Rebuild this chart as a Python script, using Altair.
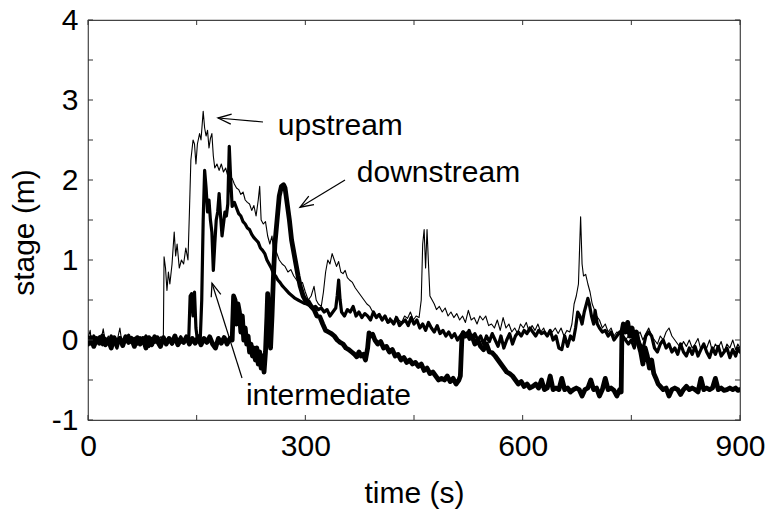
import math
import altair as alt
import pandas as pd

# ---------------- data (time s, stage m) ----------------
UPSTREAM = [
    (0, 0.02), (3, 0.12), (5, -0.05), (8, 0.03), (12, -0.06), (15, 0.04), (18, 0.0), (21, 0.14),
    (24, -0.03), (28, 0.05), (32, -0.04), (36, 0.02), (40, -0.02), (44, 0.15), (47, -0.05), (50, 0.03),
    (55, -0.02), (60, 0.04), (65, -0.06), (70, 0.02), (75, -0.03), (80, 0.05), (85, -0.04), (90, 0.03),
    (95, -0.02), (100, 0.04), (104, 0.0), (105, 1.04), (107, 0.9), (109, 0.62), (111, 0.85), (113, 0.7),
    (116, 0.95), (119, 1.35), (121, 1.05), (123, 1.2), (126, 0.9), (129, 1.0), (132, 0.95), (135, 1.15),
    (138, 1.0), (140, 1.6), (142, 2.25), (145, 2.5), (147, 2.45), (149, 2.2), (151, 2.45), (154, 2.58),
    (156, 2.5), (159, 2.86), (161, 2.65), (163, 2.55), (165, 2.62), (167, 2.4), (169, 2.52), (171, 2.58),
    (173, 2.3), (175, 2.15), (178, 2.2), (181, 2.12), (184, 2.2), (187, 2.1), (190, 2.15), (193, 2.05),
    (196, 2.0), (199, 2.02), (202, 1.95), (205, 1.9), (208, 1.88), (211, 1.82), (214, 1.85), (217, 1.75),
    (220, 1.72), (223, 1.7), (226, 1.62), (229, 1.68), (232, 1.55), (235, 1.75), (237, 1.92), (239, 1.5),
    (242, 1.45), (245, 1.48), (248, 1.3), (251, 1.2), (254, 1.3), (257, 1.05), (260, 1.1), (264, 1.0),
    (268, 0.95), (272, 0.92), (276, 0.85), (280, 0.88), (284, 0.8), (288, 0.75), (292, 0.7), (296, 0.72),
    (300, 0.6), (304, 0.5), (308, 0.55), (312, 0.67), (315, 0.5), (318, 0.45), (322, 0.42), (325, 0.6),
    (328, 0.85), (331, 1.0), (334, 0.95), (337, 1.08), (340, 1.0), (343, 0.92), (346, 0.98), (349, 0.85),
    (352, 0.83), (355, 0.87), (358, 0.78), (361, 0.75), (365, 0.72), (369, 0.65), (373, 0.6), (377, 0.55),
    (381, 0.5), (385, 0.45), (389, 0.42), (393, 0.35), (397, 0.28), (401, 0.32), (405, 0.25), (409, 0.3),
    (413, 0.22), (417, 0.28), (421, 0.2), (425, 0.3), (429, 0.25), (433, 0.22), (437, 0.3), (441, 0.27),
    (445, 0.35), (449, 0.25), (453, 0.3), (457, 0.28), (460, 0.5), (462, 1.2), (464, 1.38), (466, 0.9),
    (468, 1.38), (470, 0.95), (472, 0.55), (475, 0.5), (478, 0.45), (481, 0.38), (485, 0.42), (489, 0.35),
    (493, 0.4), (497, 0.3), (501, 0.35), (505, 0.28), (509, 0.33), (513, 0.25), (517, 0.3), (521, 0.22),
    (525, 0.37), (529, 0.25), (533, 0.28), (537, 0.2), (541, 0.3), (545, 0.25), (549, 0.3), (553, 0.18),
    (557, 0.2), (561, 0.15), (565, 0.25), (569, 0.12), (573, 0.28), (577, 0.15), (581, 0.2), (585, 0.1),
    (589, 0.15), (593, 0.08), (597, 0.2), (601, 0.15), (605, 0.22), (609, 0.1), (613, 0.18), (617, 0.12),
    (621, 0.2), (625, 0.1), (629, 0.15), (633, 0.05), (637, 0.12), (641, 0.1), (645, 0.15), (649, 0.08),
    (653, 0.15), (657, 0.05), (661, 0.12), (665, 0.1), (668, 0.2), (671, 0.45), (674, 0.55), (677, 0.7),
    (680, 1.54), (682, 0.95), (684, 0.8), (687, 0.82), (690, 0.7), (693, 0.6), (696, 0.45), (699, 0.38),
    (702, 0.3), (706, 0.25), (710, 0.15), (714, 0.2), (718, 0.1), (722, 0.15), (726, 0.05), (730, 0.1),
    (734, 0.08), (738, 0.05), (742, 0.0), (746, 0.05), (750, 0.1), (754, 0.02), (758, 0.05), (762, 0.1),
    (766, 0.0), (770, 0.08), (774, 0.15), (778, 0.05), (782, 0.0), (786, -0.05), (790, 0.05), (794, 0.0),
    (798, 0.1), (802, 0.15), (806, 0.05), (810, 0.0), (814, -0.05), (818, -0.1), (822, -0.02), (826, -0.08),
    (830, 0.0), (834, -0.1), (838, -0.05), (842, 0.02), (846, -0.12), (850, -0.05), (854, -0.1), (858, 0.0),
    (862, -0.15), (866, -0.05), (870, -0.1), (874, -0.02), (878, -0.15), (882, -0.05), (886, -0.1), (890, 0.0),
    (894, -0.12), (897, -0.05), (900, -0.1),
]

INTERMEDIATE = [
    (0, 0.0), (4, -0.05), (8, 0.05), (12, -0.02), (16, 0.04), (20, -0.06), (24, 0.02), (28, -0.03),
    (32, 0.05), (36, -0.02), (40, -0.1), (44, 0.03), (48, -0.04), (52, 0.02), (56, 0.06), (60, -0.03),
    (64, 0.02), (68, -0.05), (72, 0.03), (76, -0.02), (80, 0.05), (84, -0.08), (88, 0.02), (92, -0.03),
    (96, 0.04), (100, -0.02), (104, 0.03), (108, -0.04), (112, 0.02), (116, -0.05), (120, 0.03), (124, -0.02),
    (128, 0.04), (132, -0.03), (136, 0.02), (139, 0.0), (141, 0.55), (143, 0.58), (145, 0.3), (147, 0.6),
    (149, 0.15), (151, 0.0), (153, 0.05), (155, 0.02), (157, 0.5), (159, 1.5), (161, 2.12), (163, 1.9),
    (165, 1.6), (167, 1.75), (169, 1.5), (171, 1.35), (173, 0.87), (175, 1.2), (177, 1.5), (179, 1.6),
    (181, 1.83), (183, 1.55), (185, 1.3), (187, 1.45), (189, 1.6), (191, 1.55), (193, 1.7), (195, 2.42),
    (197, 2.0), (199, 1.67), (202, 1.72), (205, 1.65), (208, 1.58), (211, 1.55), (214, 1.48), (217, 1.45),
    (220, 1.4), (223, 1.38), (226, 1.32), (229, 1.28), (232, 1.25), (235, 1.22), (238, 1.15), (241, 1.12),
    (244, 1.08), (247, 1.0), (250, 0.95), (253, 0.9), (256, 0.83), (259, 0.8), (262, 0.75), (265, 0.72),
    (268, 0.68), (271, 0.65), (274, 0.62), (278, 0.58), (282, 0.55), (286, 0.52), (290, 0.5), (294, 0.48),
    (298, 0.46), (302, 0.45), (306, 0.43), (310, 0.4), (314, 0.42), (318, 0.38), (322, 0.4), (326, 0.35),
    (330, 0.38), (334, 0.3), (338, 0.35), (342, 0.4), (344, 0.55), (346, 0.75), (348, 0.5), (350, 0.35),
    (354, 0.3), (358, 0.38), (362, 0.35), (366, 0.42), (370, 0.3), (374, 0.35), (378, 0.28), (382, 0.33),
    (386, 0.3), (390, 0.25), (394, 0.35), (398, 0.28), (402, 0.32), (406, 0.25), (410, 0.3), (414, 0.22),
    (418, 0.25), (422, 0.2), (426, 0.28), (430, 0.18), (434, 0.22), (438, 0.25), (442, 0.18), (446, 0.28),
    (450, 0.2), (454, 0.25), (458, 0.15), (462, 0.2), (466, 0.12), (470, 0.22), (474, 0.15), (478, 0.1),
    (482, 0.18), (486, 0.08), (490, 0.12), (494, 0.05), (498, 0.1), (502, 0.03), (506, 0.08), (510, 0.0),
    (514, 0.05), (518, 0.1), (522, 0.05), (526, 0.12), (530, 0.02), (534, 0.08), (538, 0.0), (542, 0.05),
    (546, -0.05), (550, 0.05), (554, -0.02), (558, 0.08), (562, 0.0), (566, -0.08), (570, 0.05), (574, -0.1),
    (578, 0.0), (582, 0.08), (586, -0.05), (590, 0.05), (594, 0.1), (598, 0.05), (602, 0.12), (606, 0.08),
    (610, 0.15), (614, 0.1), (618, 0.05), (622, 0.12), (626, 0.08), (630, 0.1), (634, 0.05), (638, 0.12),
    (642, 0.0), (646, 0.05), (650, -0.1), (654, -0.12), (658, 0.05), (662, -0.08), (666, 0.05), (670, 0.0),
    (673, 0.15), (676, 0.35), (679, 0.3), (682, 0.2), (685, 0.35), (688, 0.45), (690, 0.52), (692, 0.45),
    (695, 0.3), (698, 0.2), (700, 0.37), (703, 0.2), (706, 0.15), (710, 0.1), (714, 0.12), (718, 0.05),
    (722, 0.1), (726, 0.0), (730, 0.05), (734, 0.1), (738, 0.05), (742, 0.0), (746, -0.05), (750, 0.0),
    (754, -0.1), (758, 0.05), (762, -0.05), (766, -0.12), (770, 0.05), (774, 0.1), (778, 0.05), (782, -0.1),
    (786, -0.15), (790, -0.05), (794, 0.0), (798, -0.1), (802, -0.05), (806, -0.15), (810, -0.1), (814, -0.18),
    (818, -0.05), (822, -0.15), (826, -0.2), (830, -0.1), (834, -0.18), (838, -0.08), (842, -0.2), (846, -0.12),
    (850, -0.05), (854, -0.15), (858, -0.22), (862, -0.1), (866, -0.18), (870, -0.08), (874, -0.2), (878, -0.15),
    (882, -0.1), (886, -0.22), (890, -0.12), (894, -0.2), (897, -0.1), (900, -0.15),
]

DOWNSTREAM = [
    (0, -0.05), (4, 0.03), (8, -0.08), (12, 0.02), (16, -0.04), (20, 0.05), (24, -0.06), (28, 0.0),
    (32, -0.1), (36, 0.03), (40, -0.04), (44, 0.02), (48, -0.07), (52, 0.04), (56, -0.03), (60, 0.02),
    (64, -0.08), (68, 0.03), (72, -0.05), (76, 0.02), (80, -0.1), (84, 0.03), (88, -0.06), (92, 0.04),
    (96, -0.02), (100, -0.08), (104, 0.03), (108, -0.05), (112, 0.02), (116, -0.04), (120, 0.05), (124, -0.06),
    (128, 0.0), (132, -0.03), (136, 0.04), (140, -0.05), (144, 0.02), (148, -0.04), (152, 0.03), (156, -0.06),
    (160, 0.02), (164, -0.03), (168, 0.04), (172, -0.05), (176, -0.1), (180, 0.02), (184, -0.04), (188, 0.03),
    (192, -0.05), (196, 0.02), (199, 0.0), (201, 0.55), (203, 0.5), (205, 0.2), (207, 0.45), (209, 0.35),
    (211, 0.1), (213, 0.3), (215, 0.0), (217, 0.15), (219, -0.05), (221, 0.05), (223, -0.15), (225, -0.05),
    (227, -0.2), (229, -0.1), (231, -0.25), (233, -0.1), (235, -0.3), (237, -0.15), (239, -0.35), (241, -0.2),
    (243, -0.4), (245, -0.15), (247, 0.3), (248, 0.58), (250, 0.2), (252, -0.1), (254, 0.3), (256, 0.8),
    (258, 1.2), (261, 1.5), (264, 1.8), (267, 1.92), (270, 1.94), (272, 1.9), (275, 1.7), (278, 1.5),
    (281, 1.25), (284, 1.1), (287, 0.95), (290, 0.8), (293, 0.67), (297, 0.55), (300, 0.5), (304, 0.48),
    (308, 0.42), (312, 0.38), (316, 0.3), (320, 0.29), (324, 0.2), (328, 0.12), (332, 0.1), (336, 0.08),
    (340, 0.05), (344, 0.0), (348, -0.03), (352, -0.05), (356, -0.1), (360, -0.12), (364, -0.15), (368, -0.18),
    (371, -0.21), (374, -0.15), (377, -0.2), (380, -0.18), (383, -0.25), (386, -0.1), (388, 0.09), (390, 0.05),
    (393, 0.07), (396, 0.0), (400, -0.05), (404, -0.02), (408, -0.1), (412, -0.08), (416, -0.15), (420, -0.12),
    (424, -0.2), (428, -0.18), (432, -0.25), (436, -0.22), (440, -0.28), (444, -0.25), (448, -0.3), (452, -0.28),
    (456, -0.33), (460, -0.3), (464, -0.38), (468, -0.35), (472, -0.42), (476, -0.4), (480, -0.45), (484, -0.5),
    (488, -0.48), (492, -0.5), (496, -0.45), (500, -0.52), (504, -0.48), (508, -0.55), (512, -0.5), (514, -0.45),
    (516, 0.0), (518, 0.09), (521, 0.05), (524, 0.08), (527, 0.02), (530, 0.05), (534, -0.05), (538, 0.0),
    (542, -0.08), (546, -0.12), (550, -0.05), (554, -0.15), (558, -0.16), (562, -0.2), (566, -0.25), (570, -0.3),
    (574, -0.35), (578, -0.4), (582, -0.42), (586, -0.45), (590, -0.5), (594, -0.55), (598, -0.52), (602, -0.58),
    (606, -0.55), (610, -0.6), (614, -0.58), (618, -0.55), (622, -0.6), (626, -0.5), (630, -0.62), (634, -0.6),
    (638, -0.45), (642, -0.62), (646, -0.6), (650, -0.62), (654, -0.48), (658, -0.62), (662, -0.6), (666, -0.65),
    (670, -0.62), (674, -0.6), (678, -0.62), (682, -0.7), (686, -0.62), (690, -0.6), (694, -0.5), (698, -0.62),
    (702, -0.6), (706, -0.7), (710, -0.62), (714, -0.48), (718, -0.62), (722, -0.6), (726, -0.63), (730, -0.7),
    (734, -0.62), (736, -0.65), (737, 0.1), (739, 0.2), (742, 0.1), (745, 0.22), (748, 0.05), (751, 0.15),
    (754, 0.0), (757, 0.1), (760, -0.05), (763, -0.15), (766, -0.3), (769, -0.1), (772, -0.2), (775, -0.35),
    (778, -0.25), (781, -0.42), (784, -0.48), (787, -0.55), (790, -0.58), (794, -0.62), (798, -0.6), (802, -0.7),
    (806, -0.62), (810, -0.6), (814, -0.62), (818, -0.68), (822, -0.62), (826, -0.58), (830, -0.62), (834, -0.6),
    (838, -0.62), (842, -0.65), (846, -0.48), (850, -0.62), (854, -0.6), (858, -0.62), (862, -0.6), (866, -0.48),
    (870, -0.62), (874, -0.6), (878, -0.63), (882, -0.62), (886, -0.6), (890, -0.62), (894, -0.6), (897, -0.63),
    (900, -0.62),
]

# annotations: text anchor and arrow (tail -> tip), in data units
LABELS = ["upstream", "downstream", "intermediate"]
LABEL_T = [262, 371, 218]
LABEL_V = [2.56, 1.975, -0.81]
ARROW_T0 = [241.6, 354.8, 212.6]
ARROW_V0 = [2.725, 2.0, -0.475]
ARROW_T1 = [179.5, 292.7, 171.2]
ARROW_V1 = [2.775, 1.66, 0.71]

X_TICKS = [0, 150, 300, 450, 600, 750, 900]
X_LABELS = [0, 300, 600, 900]
Y_TICKS = [-1, -0.5, 0, 0.5, 1, 1.5, 2, 2.5, 3, 3.5, 4]
Y_LABELS = [-1, 0, 1, 2, 3, 4]

# ---------------- chart ----------------
W, H = 652, 400
FONT = "Liberation Sans"
XD, YD = [0, 900], [-1, 4]

xs = alt.Scale(domain=XD, nice=False, zero=False)
ys = alt.Scale(domain=YD, nice=False, zero=False)

x_axis = alt.Axis(values=X_LABELS, ticks=False, domain=False, grid=False,
                  labelExpr="'' + datum.value",
                  labelFont=FONT, labelFontSize=30, labelColor="black", labelPadding=11,
                  labelFlush=False, title="time (s)", titleFont=FONT, titleFontSize=30,
                  titleFontWeight="normal", titleColor="black", titleX=326, titleY=82,
                  titleAlign="center", titleBaseline="alphabetic")
y_axis = alt.Axis(values=Y_LABELS, ticks=False, domain=False, grid=False,
                  labelExpr="'' + datum.value",
                  labelFont=FONT, labelFontSize=30, labelColor="black", labelPadding=10,
                  labelFlush=False, title="stage (m)", titleFont=FONT, titleFontSize=30,
                  titleFontWeight="normal", titleColor="black", titleAngle=270, titleX=-55,
                  titleY=212, titleAlign="center", titleBaseline="alphabetic")


def line_layer(pairs, width):
    df = pd.DataFrame(pairs, columns=["t", "v"])
    return alt.Chart(df).mark_line(color="black", strokeWidth=width, strokeJoin="round",
                                   strokeCap="round", clip=True).encode(
        x=alt.X("t:Q", scale=xs, axis=x_axis),
        y=alt.Y("v:Q", scale=ys, axis=y_axis),
        order="t:Q",
    )


up = line_layer(UPSTREAM, 1.1)
mid = line_layer(INTERMEDIATE, 3.2)
down = line_layer(DOWNSTREAM, 4.8)

# inward ticks on all four sides
ytick_df = pd.DataFrame({"v": Y_TICKS})
xtick_df = pd.DataFrame({"t": X_TICKS})
tick_color = "#333333"
ytl = alt.Chart(ytick_df).mark_rule(color=tick_color, strokeWidth=1).encode(
    y=alt.Y("v:Q", scale=ys, axis=y_axis), x=alt.value(0), x2=alt.value(5))
ytr = alt.Chart(ytick_df).mark_rule(color=tick_color, strokeWidth=1).encode(
    y=alt.Y("v:Q", scale=ys, axis=y_axis), x=alt.value(W - 5), x2=alt.value(W))
xtb = alt.Chart(xtick_df).mark_rule(color=tick_color, strokeWidth=1).encode(
    x=alt.X("t:Q", scale=xs, axis=x_axis), y=alt.value(H - 5), y2=alt.value(H))
xtt = alt.Chart(xtick_df).mark_rule(color=tick_color, strokeWidth=1).encode(
    x=alt.X("t:Q", scale=xs, axis=x_axis), y=alt.value(0), y2=alt.value(5))

# annotations
ann = pd.DataFrame({"label": LABELS, "t": LABEL_T, "v": LABEL_V,
                    "t0": ARROW_T0, "v0": ARROW_V0, "t1": ARROW_T1, "v1": ARROW_V1})
px_t = W / (XD[1] - XD[0])
px_v = H / (YD[1] - YD[0])
ann["angle"] = [
    math.degrees(math.atan2(-(b1 - b0) * px_v, (a1 - a0) * px_t)) % 360
    for a0, b0, a1, b1 in zip(ann.t0, ann.v0, ann.t1, ann.v1)
]

texts = alt.Chart(ann).mark_text(font=FONT, fontSize=30, align="left", baseline="alphabetic",
                                 color="black").encode(
    x=alt.X("t:Q", scale=xs, axis=x_axis), y=alt.Y("v:Q", scale=ys, axis=y_axis), text="label:N")
shafts = alt.Chart(ann).mark_rule(color="black", strokeWidth=1.2).encode(
    x=alt.X("t0:Q", scale=xs, axis=x_axis), y=alt.Y("v0:Q", scale=ys, axis=y_axis),
    x2="t1:Q", y2="v1:Q")
heads = alt.Chart(ann).mark_point(shape="M -1 -0.38 L 0 0 L -1 0.38", filled=False,
                                  color="black", strokeWidth=1.3, size=700, opacity=1).encode(
    x=alt.X("t1:Q", scale=xs, axis=x_axis), y=alt.Y("v1:Q", scale=ys, axis=y_axis),
    angle=alt.Angle("angle:Q", scale=None))

chart = alt.layer(up, mid, down, ytl, ytr, xtb, xtt, shafts, heads, texts).properties(
    width=W, height=H, padding={"left": 80, "top": 12, "right": 25, "bottom": 91},
    autosize="none", background="white",
).configure_view(stroke="#444444", strokeWidth=1.2)

chart.save("out.html", embed_options={"renderer": "svg", "actions": False})
